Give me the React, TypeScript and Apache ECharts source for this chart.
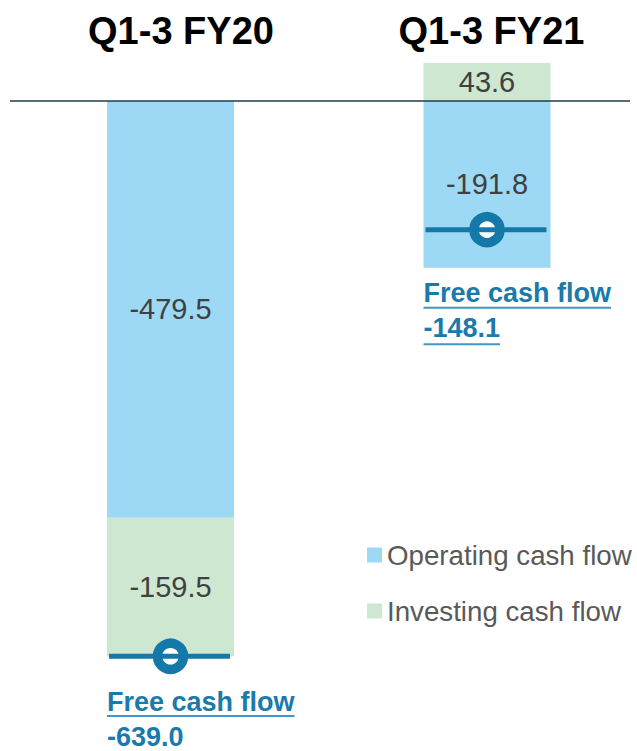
import React, { useEffect, useRef } from "react";
import * as echarts from "echarts";

// ---- Data ----
const categories = ["Q1-3 FY20", "Q1-3 FY21"];
const operatingCashFlow = [-479.5, -191.8];
const investingCashFlow = [-159.5, 43.6];
const freeCashFlow = [-639.0, -148.1];
const seriesNames = ["Operating cash flow", "Investing cash flow"];
const fcfTitle = "Free cash flow";

// ---- Style ----
const BLUE = "#9dd9f5";
const GREEN = "#cde7d1";
const MARK = "#1479a8";
const FCF_TEXT = "#1a7aaa";
const UNDERLINE = "#3f98c4";
const LABEL = "#404040";
const FONT = '"Liberation Sans", Arial, Helvetica, sans-serif';
const BAR_WIDTH = 127;
const FCF_FONT_SIZE = 27;
const underlineValueLine = [false, true];
const titleCenters = [181, 491.5];

function measure(text: string, font: string): number {
  const c = document.createElement("canvas");
  const ctx = c.getContext("2d");
  if (!ctx) return text.length * 14;
  ctx.font = font;
  return ctx.measureText(text).width;
}

export default function App() {
  const ref = useRef<HTMLDivElement>(null);

  useEffect(() => {
    if (!ref.current) return;
    const chart = echarts.init(ref.current, null, { renderer: "svg" });

    const fcfFont = `bold ${FCF_FONT_SIZE}px ${FONT}`;
    const fcfData = freeCashFlow.map((v, i) => {
      const negSum =
        Math.min(0, operatingCashFlow[i]) + Math.min(0, investingCashFlow[i]);
      return [i, v, negSum];
    });

    const labelCfg = {
      show: true,
      position: "inside",
      color: LABEL,
      fontSize: 29,
      fontFamily: FONT,
      formatter: (p: any) => Number(p.value).toFixed(1),
    };

    const titles = categories.map((c, i) => ({
      type: "text",
      x: titleCenters[i],
      y: 31,
      style: {
        text: c,
        font: `bold 38px ${FONT}`,
        fill: "#000000",
        align: "center",
        verticalAlign: "middle",
      },
    }));

    const option: any = {
      animation: false,
      grid: {
        left: 12.25,
        width: 633,
        top: 48.86,
        height: 660.4,
        outerBoundsMode: "none",
        containLabel: false,
      },
      xAxis: {
        type: "category",
        data: categories,
        show: false,
      },
      yAxis: {
        type: "value",
        min: -700,
        max: 60,
        show: false,
      },
      legend: {
        orient: "vertical",
        left: 367,
        top: 541,
        padding: 0,
        itemWidth: 15,
        itemHeight: 15,
        itemGap: 28,
        icon: "rect",
        data: seriesNames,
        textStyle: { fontSize: 27.7, color: "#595959", fontFamily: FONT },
      },
      graphic: titles,
      series: [
        {
          name: seriesNames[0],
          type: "bar",
          stack: "cf",
          barWidth: BAR_WIDTH,
          data: operatingCashFlow,
          itemStyle: { color: BLUE },
          label: labelCfg,
        },
        {
          name: seriesNames[1],
          type: "bar",
          stack: "cf",
          barWidth: BAR_WIDTH,
          data: investingCashFlow,
          itemStyle: { color: GREEN },
          label: labelCfg,
        },
        {
          type: "custom",
          z: 5,
          clip: false,
          data: fcfData,
          renderItem: (params: any, api: any) => {
            const idx = api.value(0);
            const val = api.value(1);
            const p = api.coord([idx, val]);
            const b = api.coord([idx, api.value(2)]);
            const cx = p[0];
            const cy = p[1];
            const left = cx - BAR_WIDTH / 2;
            const ringR = 13;
            const ringW = 9.5;
            const capTop = Math.max(b[1] + 16, cy + ringR + ringW / 2 + 18);
            const line1 = capTop + 9.5;
            const line2 = line1 + 35;
            const valText = Number(val).toFixed(1);
            const w1 = measure(fcfTitle, fcfFont);
            const w2 = measure(valText, fcfFont);
            const children: any[] = [
              {
                type: "circle",
                shape: { cx, cy, r: ringR },
                style: { fill: "#ffffff", stroke: MARK, lineWidth: ringW },
              },
              {
                type: "line",
                shape: {
                  x1: left + 2,
                  y1: cy,
                  x2: left + BAR_WIDTH - 4,
                  y2: cy,
                },
                style: { stroke: MARK, lineWidth: 5 },
              },
              {
                type: "text",
                x: left,
                y: line1,
                style: {
                  text: fcfTitle,
                  font: fcfFont,
                  fill: FCF_TEXT,
                  align: "left",
                  verticalAlign: "middle",
                },
              },
              {
                type: "rect",
                shape: { x: left, y: line1 + 13.5, width: w1, height: 2 },
                style: { fill: UNDERLINE },
              },
              {
                type: "text",
                x: left,
                y: line2,
                style: {
                  text: valText,
                  font: fcfFont,
                  fill: FCF_TEXT,
                  align: "left",
                  verticalAlign: "middle",
                },
              },
            ];
            if (underlineValueLine[idx]) {
              children.push({
                type: "rect",
                shape: { x: left, y: line2 + 15, width: w2, height: 2 },
                style: { fill: UNDERLINE },
              });
            }
            return { type: "group", children };
          },
        },
      ],
    };

    chart.setOption(option);

    const y0 = chart.convertToPixel({ yAxisIndex: 0 }, 0) as number;
    chart.setOption({
      graphic: [
        ...titles,
        {
          type: "line",
          z: 10,
          shape: { x1: 10, y1: y0, x2: 630, y2: y0 },
          style: { stroke: "#1f3b4d", lineWidth: 1.5 },
        },
      ],
    });

    return () => chart.dispose();
  }, []);

  return (
    <div
      ref={ref}
      style={{
        position: "fixed",
        left: 0,
        top: 0,
        width: 637,
        height: 751,
        background: "#ffffff",
      }}
    />
  );
}
